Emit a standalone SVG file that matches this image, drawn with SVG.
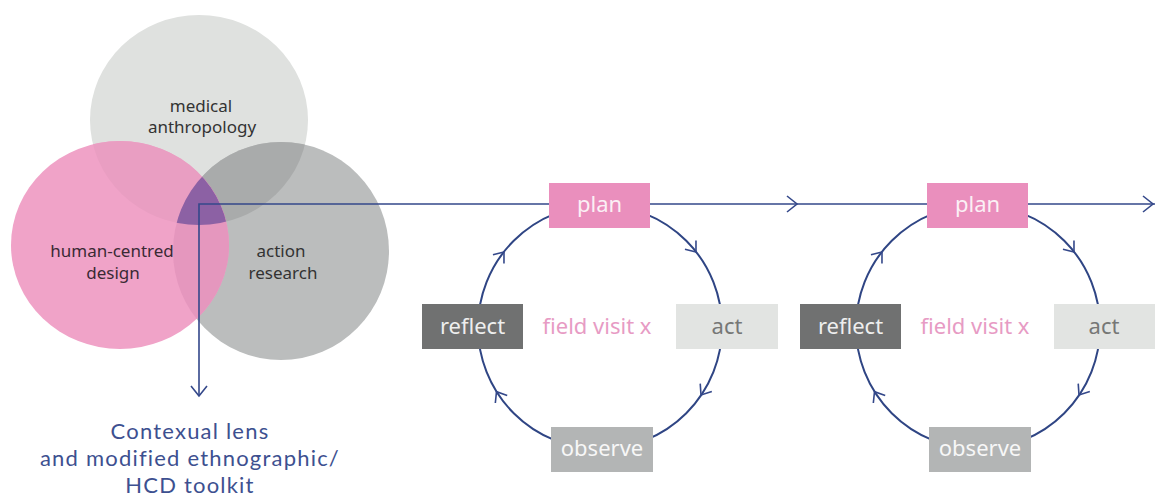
<svg xmlns="http://www.w3.org/2000/svg" xmlns:xlink="http://www.w3.org/1999/xlink" width="1155" height="499" viewBox="0 0 1155 499">
  <style>
    .venn-label { font-family: "Noto Sans", "Open Sans", sans-serif; font-size: 17px; fill: #333333; text-anchor: middle; }
    .box-label { font-family: "Noto Sans", "Open Sans", sans-serif; font-size: 22px; text-anchor: middle; }
    .centre-label { font-family: "Noto Sans", "Open Sans", sans-serif; font-size: 22px; fill: #e79bc4; text-anchor: middle; }
    .out-label { font-family: Lato, "Noto Sans", sans-serif; font-size: 22px; letter-spacing: 1.2px; fill: #3d5090; text-anchor: middle; }
    .flow { fill: none; stroke: #34488a; stroke-width: 1.6; }
    .cycle { fill: none; stroke: #2f4584; stroke-width: 2; }
    .chev { fill: none; stroke: #34488a; stroke-width: 1.6; stroke-linejoin: miter; }
  </style>
  <defs>
    <ellipse id="eTop" cx="199" cy="120" rx="109" ry="105"/>
    <ellipse id="ePink" cx="120" cy="245" rx="109" ry="104"/>
    <ellipse id="eGray" cx="281" cy="251" rx="108" ry="109"/>
    <clipPath id="clipTop"><use xlink:href="#eTop"/></clipPath>
    <clipPath id="clipGray"><use xlink:href="#eGray"/></clipPath>
    <path id="chev" d="M-10,-8 L0,0 L-10,8"/>
    <path id="chevS" d="M-9,-7 L0,0 L-9,7"/>
  </defs>

  <rect width="1155" height="499" fill="#ffffff"/>

  <!-- three overlapping disciplines -->
  <g id="venn">
    <use xlink:href="#eTop" fill="#dfe1df"/>
    <use xlink:href="#eGray" fill="#bbbdbd"/>
    <g clip-path="url(#clipTop)"><use xlink:href="#eGray" fill="#a9abab"/></g>
    <use xlink:href="#ePink" fill="#f0a3c8"/>
    <g clip-path="url(#clipTop)"><use xlink:href="#ePink" fill="#e99ec2"/></g>
    <g clip-path="url(#clipGray)"><use xlink:href="#ePink" fill="#e597be"/></g>
    <g clip-path="url(#clipTop)"><g clip-path="url(#clipGray)"><use xlink:href="#ePink" fill="#8c61a4"/></g></g>
  </g>
  <g id="medical-anthropology">
    <text class="venn-label"><tspan x="201" y="112">medical</tspan><tspan x="202" y="133">anthropology</tspan></text>
  </g>
  <g id="human-centred-design">
    <text class="venn-label" style="fill:#3a2a34"><tspan x="112" y="257">human-centred</tspan><tspan x="113" y="279">design</tspan></text>
  </g>
  <g id="action-research">
    <text class="venn-label"><tspan x="281" y="257">action</tspan><tspan x="283" y="279">research</tspan></text>
  </g>

  <!-- connectors -->
  <g id="connectors">
    <path class="flow" d="M199,396 V204 H1155"/>
    <use xlink:href="#chev" class="chev" transform="translate(199,396) rotate(90)"/>
    <use xlink:href="#chev" class="chev" transform="translate(797,204)"/>
    <use xlink:href="#chev" class="chev" transform="translate(1153,204)"/>
    <!-- cycle 1 -->
    <circle class="cycle" cx="600" cy="327" r="122"/>
    <use xlink:href="#chevS" class="chev" transform="translate(696,252) rotate(52)"/>
    <use xlink:href="#chevS" class="chev" transform="translate(701,395) rotate(124)"/>
    <use xlink:href="#chevS" class="chev" transform="translate(496.5,391.7) rotate(238)"/>
    <use xlink:href="#chevS" class="chev" transform="translate(504,252) rotate(308)"/>
    <!-- cycle 2 -->
    <circle class="cycle" cx="978" cy="327" r="122"/>
    <use xlink:href="#chevS" class="chev" transform="translate(1074,252) rotate(52)"/>
    <use xlink:href="#chevS" class="chev" transform="translate(1079,395) rotate(124)"/>
    <use xlink:href="#chevS" class="chev" transform="translate(874.5,391.7) rotate(238)"/>
    <use xlink:href="#chevS" class="chev" transform="translate(882,252) rotate(308)"/>
  </g>

  <!-- output of the lens -->
  <g id="toolkit">
    <text class="out-label"><tspan x="190" y="439">Contexual lens</tspan><tspan x="190" y="466">and modified ethnographic/</tspan><tspan x="190" y="493">HCD toolkit</tspan></text>
  </g>

  <!-- field visit cycle 1 -->
  <g id="plan-1">
    <rect x="549" y="183" width="101" height="45" fill="#ea8fbd"/>
    <text class="box-label" x="599.5" y="212" fill="#fbf0f5">plan</text>
  </g>
  <g id="act-1">
    <rect x="676" y="304" width="102" height="45" fill="#e2e4e2"/>
    <text class="box-label" x="727" y="334" fill="#767776">act</text>
  </g>
  <g id="observe-1">
    <rect x="551" y="427" width="102" height="45" fill="#b3b5b5"/>
    <text class="box-label" x="602" y="456" fill="#f7f7f7">observe</text>
  </g>
  <g id="reflect-1">
    <rect x="422" y="304" width="101" height="45" fill="#707171"/>
    <text class="box-label" x="472.5" y="334" fill="#eeeeee">reflect</text>
  </g>
  <g id="field-visit-1">
    <text class="centre-label" x="597" y="334">field visit x</text>
  </g>

  <!-- field visit cycle 2 -->
  <g id="plan-2">
    <rect x="927" y="183" width="101" height="45" fill="#ea8fbd"/>
    <text class="box-label" x="977.5" y="212" fill="#fbf0f5">plan</text>
  </g>
  <g id="act-2">
    <rect x="1054" y="304" width="102" height="45" fill="#e2e4e2"/>
    <text class="box-label" x="1104" y="334" fill="#767776">act</text>
  </g>
  <g id="observe-2">
    <rect x="929" y="427" width="102" height="45" fill="#b3b5b5"/>
    <text class="box-label" x="980" y="456" fill="#f7f7f7">observe</text>
  </g>
  <g id="reflect-2">
    <rect x="800" y="304" width="101" height="45" fill="#707171"/>
    <text class="box-label" x="850.5" y="334" fill="#eeeeee">reflect</text>
  </g>
  <g id="field-visit-2">
    <text class="centre-label" x="975" y="334">field visit x</text>
  </g>
</svg>
